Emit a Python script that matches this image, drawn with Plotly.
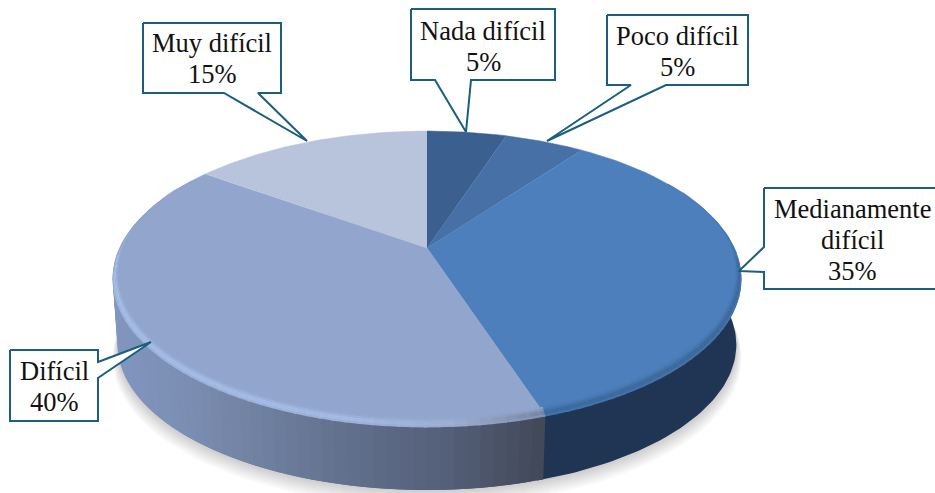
import numpy as np
import plotly.graph_objects as go

# values, clockwise from 12 o'clock
labels = [['Nada difícil'], ['Poco difícil'], ['Medianamente', 'difícil'], ['Difícil'], ['Muy difícil']]
percents = [5, 5, 35, 40, 15]

top_colors = ['#3b5f8e', '#4670a6', '#4c7fbb', '#91a5cd', '#b7c4dc']

# pie geometry in page pixels
WIDTH, HEIGHT = 935, 493
CX, CY = 427, 248
A, B, K = 307.4, 141.3, 0.208
DEPTH = 67
LINE = '#1b5e7d'
FONT = 'Liberation Serif'
LINE_GAP = 31

# callouts: box (x0, y0, x1, y1), pointer base and tip, text centre
callouts = [
    dict(box=(411, 9, 555, 80), side='bottom', gap=(435, 471), tip=(466, 132), text=(483, 46)),
    dict(box=(607, 15, 748, 85), side='bottom', gap=(631, 666), tip=(547, 141), text=(677, 51)),
    dict(box=(764, 188, 950, 289), side='left', gap=(247, 272), tip=(739, 271), text=(852, 240)),
    dict(box=(10, 350, 98, 421), side='right', gap=(362, 378), tip=(151, 342), text=(54, 386)),
    dict(box=(143, 23, 281, 93), side='bottom', gap=(224, 258), tip=(307, 141), text=(212, 58)),
]


def project(deg, r=1.0, dy=0.0):
    t = np.radians(deg)
    x, y = r * np.sin(t), r * np.cos(t)
    d = 1 + K * y
    return CX + A * x / d, CY - B * y / d + dy


def mix(c1, c2, f):
    f = min(max(f, 0), 1)
    a = [int(c1[i:i + 2], 16) for i in (1, 3, 5)]
    b = [int(c2[i:i + 2], 16) for i in (1, 3, 5)]
    return '#%02x%02x%02x' % tuple(round(u * (1 - f) + v * f) for u, v in zip(a, b))


def ramp(stops, x):
    for (x0, c0), (x1, c1) in zip(stops, stops[1:]):
        if x <= x1:
            return mix(c0, c1, (x - x0) / (x1 - x0))
    return stops[-1][1]


def poly(fig, xs, ys, color, line=None, width=0.0):
    fig.add_trace(go.Scatter(
        x=list(xs), y=list(ys), mode='lines', fill='toself', fillcolor=color,
        line=dict(color=line or color, width=width), hoverinfo='skip', showlegend=False,
    ))


fig = go.Figure()

edges = np.cumsum([0] + percents) * 3.6

# soft shadow under the disc
angles = np.arange(0, 361, 3)
for i in range(8, 0, -1):
    px, py = project(angles, 0.985 + 0.002 * i, DEPTH + 1.6 * i)
    poly(fig, px, py, 'rgba(0,0,0,0.022)', line='rgba(0,0,0,0)')

# side wall: one dark piece for Medianamente, gradient strips for Difícil
arc = np.linspace(60, edges[3] + 1, 80)
tx, ty = project(arc)
bx, by = project(arc[::-1], 0.985, DEPTH)
poly(fig, list(tx) + list(bx), list(ty) + list(by), '#1f3553')

dificil_side = [(100, '#8298c2'), (200, '#7a8cb0'), (340, '#63728f'), (450, '#55607a'), (545, '#424959')]
step = 2
for deg in np.arange(edges[3], 300, step):
    seg = np.array([deg, deg + 2 * step])
    tx, ty = project(seg)
    bx, by = project(seg[::-1], 0.985, DEPTH)
    poly(fig, list(tx) + list(bx), list(ty) + list(by), ramp(dificil_side, tx[0]))

# top face slices
for i, color in enumerate(top_colors):
    arc = np.linspace(edges[i], edges[i + 1], 60)
    px, py = project(arc)
    poly(fig, [CX] + list(px), [CY] + list(py), color, width=0.5)

# bevel along the front rim
rim_dificil = [(100, '#a9c3ea'), (340, '#a9c0e8'), (450, '#a3b3d3'), (545, '#6f7c94')]
rings = 5
for ring in range(rings):
    f0 = ring / rings
    f1 = (ring + 1) / rings
    for deg in np.arange(66, 296, step):
        mid = deg + step / 2
        seg = np.array([deg, deg + step + 0.4])
        x0, y0 = project(seg, 1 - 0.018 * f0, -6 * f0 + 1)
        x1, y1 = project(seg[::-1], 1 - 0.018 * f1, -6 * f1 + 1)
        if mid > edges[3]:
            glow, base = ramp(rim_dificil, x0.mean()), '#91a5cd'
        else:
            glow, base = '#3a6597', '#4c7fbb'
        fade = min(1, np.cos(np.radians(mid)) * -3 + 0.9)
        color = mix(base, glow, fade * (1 - abs(f0 * 2 - 0.6) * 0.9))
        poly(fig, list(x0) + list(x1), list(y0) + list(y1), color)

# callout boxes with their pointers
for c in callouts:
    x0, y0, x1, y1 = c['box']
    g0, g1 = c['gap']
    tx, ty = c['tip']
    if c['side'] == 'bottom':
        xs = [x0, x1, x1, g1, tx, g0, x0, x0]
        ys = [y0, y0, y1, y1, ty, y1, y1, y0]
    elif c['side'] == 'left':
        xs = [x0, x1, x1, x0, x0, tx, x0, x0]
        ys = [y0, y0, y1, y1, g1, ty, g0, y0]
    else:
        xs = [x0, x1, x1, tx, x1, x1, x0, x0]
        ys = [y0, y0, g0, ty, g1, y1, y1, y0]
    poly(fig, xs, ys, 'white', line=LINE, width=2)

# one annotation per text line, the line spacing is tighter than plotly's
for c, label, pct in zip(callouts, labels, percents):
    lines = label + [f'{pct}%']
    for i, text in enumerate(lines):
        fig.add_annotation(
            x=c['text'][0], y=c['text'][1] + (i - (len(lines) - 1) / 2) * LINE_GAP,
            text=text, showarrow=False,
            font=dict(family=FONT, size=26.5, color='#111111'),
        )

fig.update_layout(
    width=WIDTH, height=HEIGHT, margin=dict(l=0, r=0, t=0, b=0),
    paper_bgcolor='white', plot_bgcolor='white', showlegend=False,
    xaxis=dict(range=[0, WIDTH], visible=False, fixedrange=True),
    yaxis=dict(range=[HEIGHT, 0], visible=False, fixedrange=True),
)

# the page body has a default margin that would shift the figure
fig.write_html("out.html", post_script="document.body.style.margin='0';", config=dict(displayModeBar=False))
